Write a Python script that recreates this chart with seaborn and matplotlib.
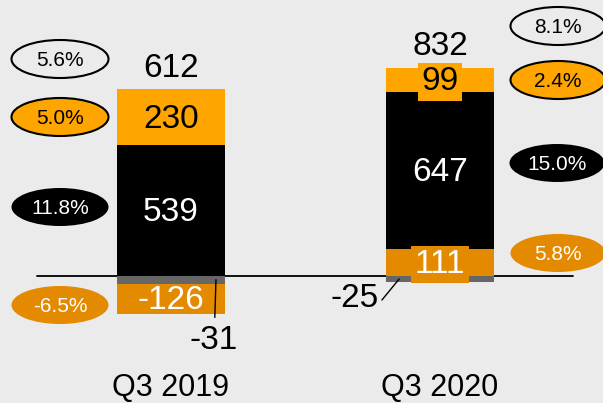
import numpy as np
import seaborn as sns
import matplotlib.pyplot as plt
from matplotlib.patches import Ellipse

quarters = ["Q3 2019", "Q3 2020"]
gray_vals = [-31, -25]
dark_vals = [-126, 111]
black_vals = [539, 647]
orange_vals = [230, 99]
totals = [612, 832]

left_pct = ["5.6%", "5.0%", "11.8%", "-6.5%"]
right_pct = ["8.1%", "2.4%", "15.0%", "5.8%"]

bg = "#EBEBEB"
orange = "#FFA500"
dark_orange = "#E38A00"
gray = "#666666"

sns.set_style("white", {"axes.facecolor": bg, "figure.facecolor": bg})
plt.rcParams["font.family"] = ["Liberation Sans", "DejaVu Sans"]
plt.rcParams["text.color"] = "black"
plt.rcParams["xtick.color"] = "black"

fig = plt.figure(figsize=(6.03, 4.03), dpi=100)
ax = fig.add_axes([0, 33 / 403, 1, 370 / 403])

# stack positives upward and negatives downward
segments = [(gray_vals, gray, None), (dark_vals, dark_orange, "white"),
            (black_vals, "black", "white"), (orange_vals, orange, "black")]
pos_base = np.zeros(2)
neg_base = np.zeros(2)
for vals, col, txt_col in segments:
    vals = np.array(vals, dtype=float)
    bot = np.where(vals >= 0, pos_base, neg_base)
    sns.barplot(x=quarters, y=vals, bottom=bot, color=col, width=0.4,
                saturation=1, errorbar=None, linewidth=0, edgecolor="none",
                ax=ax, zorder=2)
    if txt_col is not None:
        for i, v in enumerate(vals):
            box = dict(boxstyle="square,pad=0.1", fc=col, ec="none") if 0 < v < 120 else None
            ax.text(i, bot[i] + v / 2 - 8, f"{v:.0f}", ha="center", va="center",
                    fontsize=24, color=txt_col, bbox=box, zorder=4)
    pos_base = pos_base + np.where(vals >= 0, vals, 0)
    neg_base = neg_base + np.where(vals < 0, vals, 0)

ax.set_xlim(-0.636, 1.606)
ax.set_ylim(-387, 1136)
ax.axhline(0, xmin=37 / 603, xmax=573 / 603, color="black", lw=1.3, zorder=1)

for i, t in enumerate(totals):
    ax.annotate(str(t), xy=(i, pos_base[i]), xytext=(0, 9), textcoords="offset points",
                ha="center", va="baseline", fontsize=24)

# small negative callouts
ax.annotate("-31", xy=(0.167, gray_vals[0] / 2), xytext=(0.16, -265),
            ha="center", va="center", fontsize=24,
            arrowprops=dict(arrowstyle="-", color="black", lw=1, shrinkA=3, shrinkB=0))
ax.annotate("", xy=(1 - 0.152, gray_vals[1] / 2), xytext=(1 - 0.216, -99),
            arrowprops=dict(arrowstyle="-", color="black", lw=1, shrinkA=0, shrinkB=0))
ax.text(1 - 0.316, -92, "-25", ha="center", va="center", fontsize=24)

# margin ellipses
styles = [("none", "black", "black"), (orange, "black", "black"),
          ("black", "none", "white"), (dark_orange, "none", "white")]
left_pos = [(60, 59), (60, 117), (60, 207), (60, 305)]
right_pos = [(558, 26), (558, 80), (557, 163), (558, 253)]
for labels, pos, w in [(left_pct, left_pos, 97), (right_pct, right_pos, 95)]:
    for lab, (px, py), (fc, ec, tc) in zip(labels, pos, styles):
        e = Ellipse((px / 603, 1 - py / 403), w / 603, 38 / 403, transform=fig.transFigure,
                    facecolor=fc, edgecolor=ec, lw=1.5)
        fig.add_artist(e)
        fig.text(px / 603, 1 - py / 403 - 0.004, lab, ha="center", va="center",
                 fontsize=15, color=tc)

ax.set_yticks([])
ax.set_xlabel("")
ax.tick_params(axis="x", length=0, pad=2, labelsize=22, labelcolor="black")
sns.despine(ax=ax, left=True, bottom=True)

fig.savefig("out.png", dpi=100, facecolor=bg)
